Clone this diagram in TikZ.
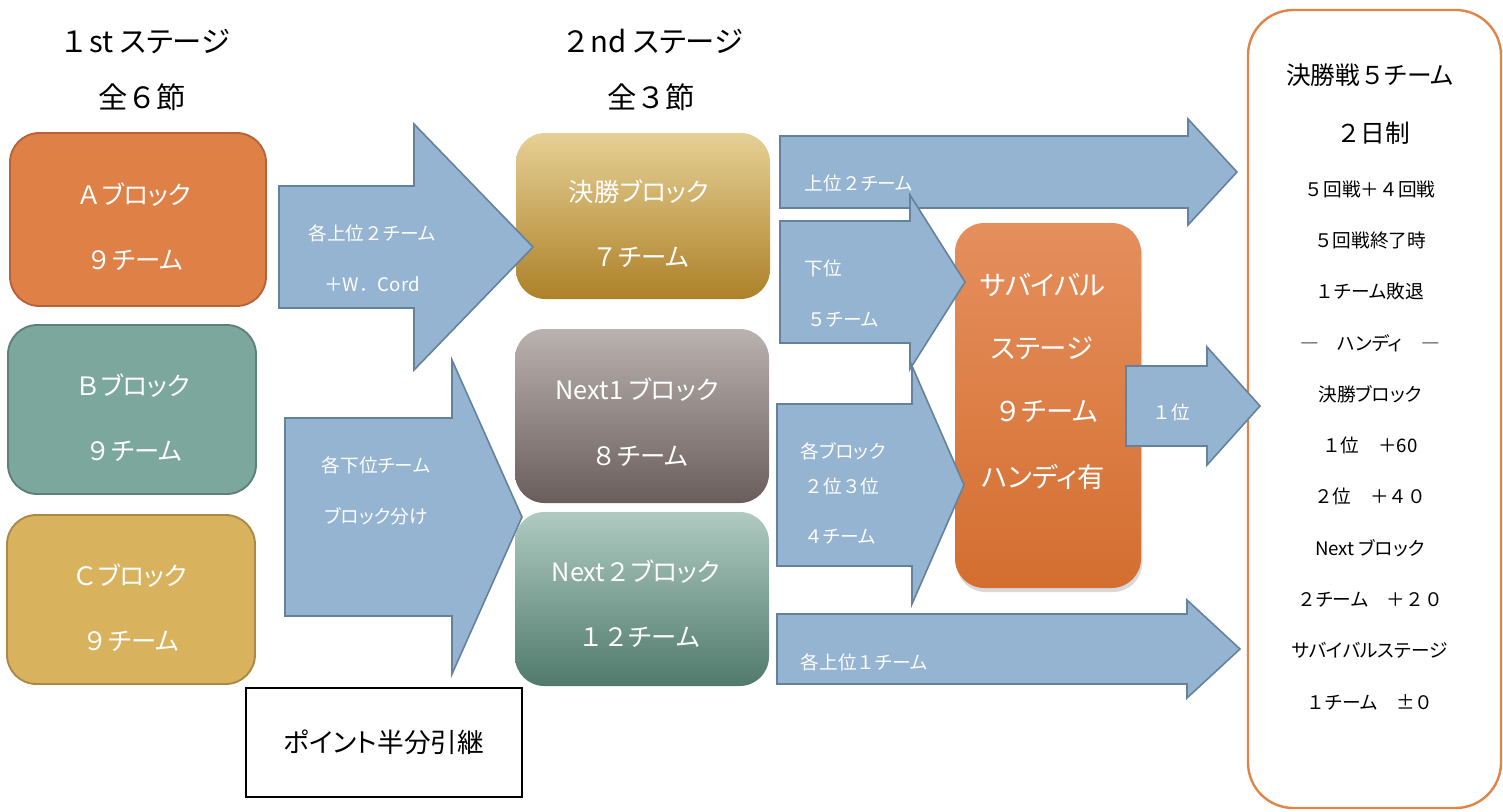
\documentclass[tikz,border=0pt]{standalone}
\usepackage{fontspec}
\setmainfont{Noto Sans CJK JP}[RawFeature=+palt]
\newfontfamily\zenfont{Noto Sans CJK JP}
\newcommand{\zen}[1]{{\zenfont #1}}
\usetikzlibrary{shadows}

\definecolor{afill}{HTML}{DF8046}
\definecolor{aline}{HTML}{B5633A}
\definecolor{bfill}{HTML}{7BA79D}
\definecolor{bline}{HTML}{5F8078}
\definecolor{cfill}{HTML}{D9B25E}
\definecolor{cline}{HTML}{A88946}
\definecolor{fintop}{HTML}{E6D096}
\definecolor{finbot}{HTML}{AD8128}
\definecolor{nexttop}{HTML}{BAB2B0}
\definecolor{nextbot}{HTML}{6A5E5C}
\definecolor{nexttwotop}{HTML}{AFCAC1}
\definecolor{nexttwobot}{HTML}{507A6C}
\definecolor{survtop}{HTML}{E58F5D}
\definecolor{survbot}{HTML}{D46E30}
\definecolor{arrfill}{HTML}{95B4D2}
\definecolor{arrline}{HTML}{64829E}
\definecolor{finline}{HTML}{E08448}

\tikzset{
  block/.style={rounded corners=22pt, line width=1.4pt, minimum width=186pt, minimum height=126.75pt, inner sep=0pt},
  stagebox/.style={rounded corners=22pt, draw=none, minimum width=190.5pt, minimum height=130.5pt, inner sep=0pt},
  bigarrow/.style={fill=arrfill, draw=arrline, line width=1.2pt, line join=miter},
  head/.style={font=\fontsize{22pt}{26pt}\selectfont},
  blocktext/.style={text=white, font=\fontsize{19pt}{23pt}\selectfont},
  arrowtext/.style={text=white, font=\fontsize{14pt}{17pt}\selectfont},
  survtext/.style={text=white, font=\fontsize{20.5pt}{24pt}\selectfont},
  fintext/.style={font=\fontsize{14pt}{17pt}\selectfont},
  finbig/.style={font=\fontsize{18.5pt}{22pt}\selectfont}
}

\begin{document}
\begin{tikzpicture}[x=0.75pt, y=-0.75pt]
\useasboundingbox (0,0) rectangle (1503,811);

% headings
\node[head] (h1) at (145,42) {\zen{１}st ステージ};
\node[head] (h1b) at (142,97) {全\zen{６}節};
\node[head] (h2) at (652,42) {\zen{２}nd ステージ};
\node[head] (h2b) at (651,97) {全\zen{３}節};

% 1st stage blocks
\node[block, fill=afill, draw=aline, minimum width=192pt, minimum height=129.75pt] (A) at (138,219.5) {};
\node[block, fill=bfill, draw=bline] (B) at (132,409.5) {};
\node[block, fill=cfill, draw=cline] (C) at (131,599.5) {};

% 2nd stage blocks
\node[stagebox, top color=fintop, bottom color=finbot, minimum height=124.5pt] (final) at (643,216) {};
\node[stagebox, top color=nexttop, bottom color=nextbot] (next1) at (642,416) {};
\node[stagebox, top color=nexttwotop, bottom color=nexttwobot] (next2) at (642,599) {};

% survival stage
\node[rounded corners=22pt, top color=survtop, bottom color=survbot, minimum width=139.5pt, minimum height=273.75pt,
  drop shadow={opacity=0.3, shadow xshift=1pt, shadow yshift=-3pt}] (surv) at (1048,405.5) {};

% final box
\node[rounded corners=34pt, draw=finline, line width=1.8pt, fill=white, minimum width=189.75pt, minimum height=598.5pt] (fin) at (1374.5,409) {};

% points box
\node[draw=black, line width=1.5pt, minimum width=207pt, minimum height=81.75pt, font=\fontsize{20pt}{24pt}\selectfont] (pts) at (384,742.5) {ポイント半分引継};

% block arrows
\foreach \l/\b/\t/\m/\s/\h in {279/414/533/247/61/123, 285/452/522/517/99/157, 780/1188/1237/172/36/53,
  780/910/965/282/61/87, 777/912/964/485/81/119, 1126/1207/1260/406/40/59, 777/1187/1240/649/35/49}
  \draw[bigarrow] (\l,\m-\s) -- (\b,\m-\s) -- (\b,\m-\h) -- (\t,\m) -- (\b,\m+\h) -- (\b,\m+\s) -- (\l,\m+\s) -- cycle;

% block texts
\node[blocktext] (a1) at (134,195) {\zen{Ａ}ブロック};
\node[blocktext] (a2) at (135,260) {\zen{９}チーム};
\node[blocktext] (b1) at (133,386) {\zen{Ｂ}ブロック};
\node[blocktext] (b2) at (134,451) {\zen{９}チーム};
\node[blocktext] (c1) at (130,576) {\zen{Ｃ}ブロック};
\node[blocktext] (c2) at (131,641) {\zen{９}チーム};
\node[blocktext] (f1) at (639,192) {決勝ブロック};
\node[blocktext] (f2) at (641,257) {\zen{７}チーム};
\node[blocktext] (n11) at (637,390) {Next1 ブロック};
\node[blocktext] (n12) at (640,456) {\zen{８}チーム};
\node[blocktext] (n21) at (636,572) {Next\zen{２}ブロック};
\node[blocktext] (n22) at (639,637) {\zen{１２}チーム};

% survival texts
\node[survtext] (s1) at (1043,285) {サバイバル};
\node[survtext] (s2) at (1042,348) {ステージ};
\node[survtext] (s3) at (1046,412) {\zen{９}チーム};
\node[survtext] (s4) at (1043,477) {ハンディ有};

% arrow texts
\node[arrowtext] (t1) at (372,233) {各上位\zen{２}チーム};
\node[arrowtext] (t2) at (372,284) {\zen{＋}W\zen{．}Cord};
\node[arrowtext] (t3) at (376,465) {各下位チーム};
\node[arrowtext] (t4) at (376,516) {ブロック分け};
\node[arrowtext, anchor=west] (t5) at (800,183) {上位\zen{２}チーム};
\node[arrowtext, anchor=west] (t6) at (800,268) {下位};
\node[arrowtext, anchor=west] (t7) at (803,320) {\zen{５}チーム};
\node[arrowtext, anchor=west] (t8) at (796,451) {各ブロック};
\node[arrowtext, anchor=west] (t9) at (800,486) {\zen{２}位\zen{３}位};
\node[arrowtext, anchor=west] (t10) at (800,537) {\zen{４}チーム};
\node[arrowtext] (t11) at (1171,412) {\zen{１}位};
\node[arrowtext, anchor=west] (t12) at (796,662) {各上位\zen{１}チーム};

% final texts
\node[finbig] (r1) at (1370,75) {決勝戦\zen{５}チーム};
\node[finbig] (r2) at (1373,133) {\zen{２}日制};
\foreach \txt [count=\i] in {\zen{５}回戦\zen{＋４}回戦, \zen{５}回戦終了時, \zen{１}チーム敗退, \zen{―　}ハンディ\zen{　―}, 決勝ブロック,
  \zen{１}位\zen{　＋}60, \zen{２}位\zen{　＋４０}, Next ブロック, \zen{２}チーム\zen{　＋２０}, サバイバルステージ, \zen{１}チーム\zen{　±０}}
  \node[fintext] (r\i) at (1370,{189+51.3*(\i-1)}) {\txt};
\end{tikzpicture}
\end{document}
